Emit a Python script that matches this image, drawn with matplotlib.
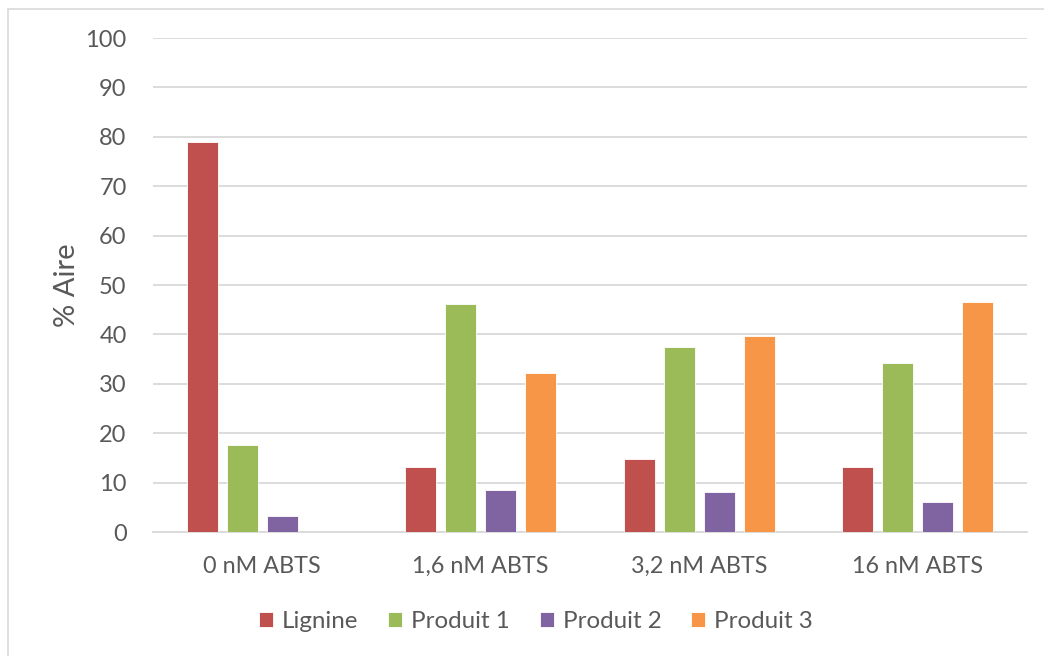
import numpy as np
import matplotlib.pyplot as plt
from matplotlib.patches import Rectangle

categories = ['0 nM ABTS', '1,6 nM ABTS', '3,2 nM ABTS', '16 nM ABTS']
lignine = [79.0, 13.2, 14.8, 13.1]
produit1 = [17.6, 46.1, 37.4, 34.2]
produit2 = [3.2, 8.6, 8.1, 6.0]
produit3 = [0.0, 32.1, 39.6, 46.5]

series = [('Lignine', lignine, '#c0504d'),
          ('Produit 1', produit1, '#9bbb59'),
          ('Produit 2', produit2, '#8064a2'),
          ('Produit 3', produit3, '#f79646')]

text_color = '#595959'
plt.rcParams['font.family'] = ['Lato', 'DejaVu Sans']

fig = plt.figure(figsize=(10.44, 6.56), dpi=100)
ax = fig.add_axes([0.1466, 0.189, 0.837, 0.753])

# chart border
fig.patches.append(Rectangle((8 / 1044, -0.1), 1.2, 1 - 9 / 656 + 0.1,
                             transform=fig.transFigure, fill=False,
                             edgecolor='#d9d9d9', linewidth=1.2))

x = np.arange(len(categories))
step = 0.183
width = 0.142
for i, (name, vals, color) in enumerate(series):
    ax.bar(x + (i - 1.5) * step, vals, width, color=color, label=name,
           edgecolor='white', linewidth=0.6, zorder=3)

ax.set_xlim(-0.5, len(categories) - 0.5)
ax.set_ylim(0, 100)
ax.set_yticks(range(0, 101, 10))
ax.set_xticks(x)
ax.set_xticklabels(categories)
ax.yaxis.grid(True, color='#d9d9d9', linewidth=1.3, zorder=0)
ax.set_axisbelow(True)
for s in ['top', 'right', 'left']:
    ax.spines[s].set_visible(False)
ax.spines['bottom'].set_color('#d9d9d9')
ax.spines['bottom'].set_linewidth(1.3)
ax.tick_params(length=0, labelcolor=text_color)
ax.tick_params(axis='y', pad=19, labelsize=17)
ax.tick_params(axis='x', pad=17, labelsize=16.8)
ax.set_ylabel('% Aire', fontsize=21, color=text_color, labelpad=4)

fig.legend(*ax.get_legend_handles_labels(), loc='center',
           bbox_to_anchor=(536 / 1044, 1 - 622 / 656), ncol=4,
           frameon=False, fontsize=17.4, handlelength=0.58, handleheight=0.58,
           handletextpad=0.37, columnspacing=1.24, labelcolor=text_color)

plt.savefig('out.png', dpi=100)
